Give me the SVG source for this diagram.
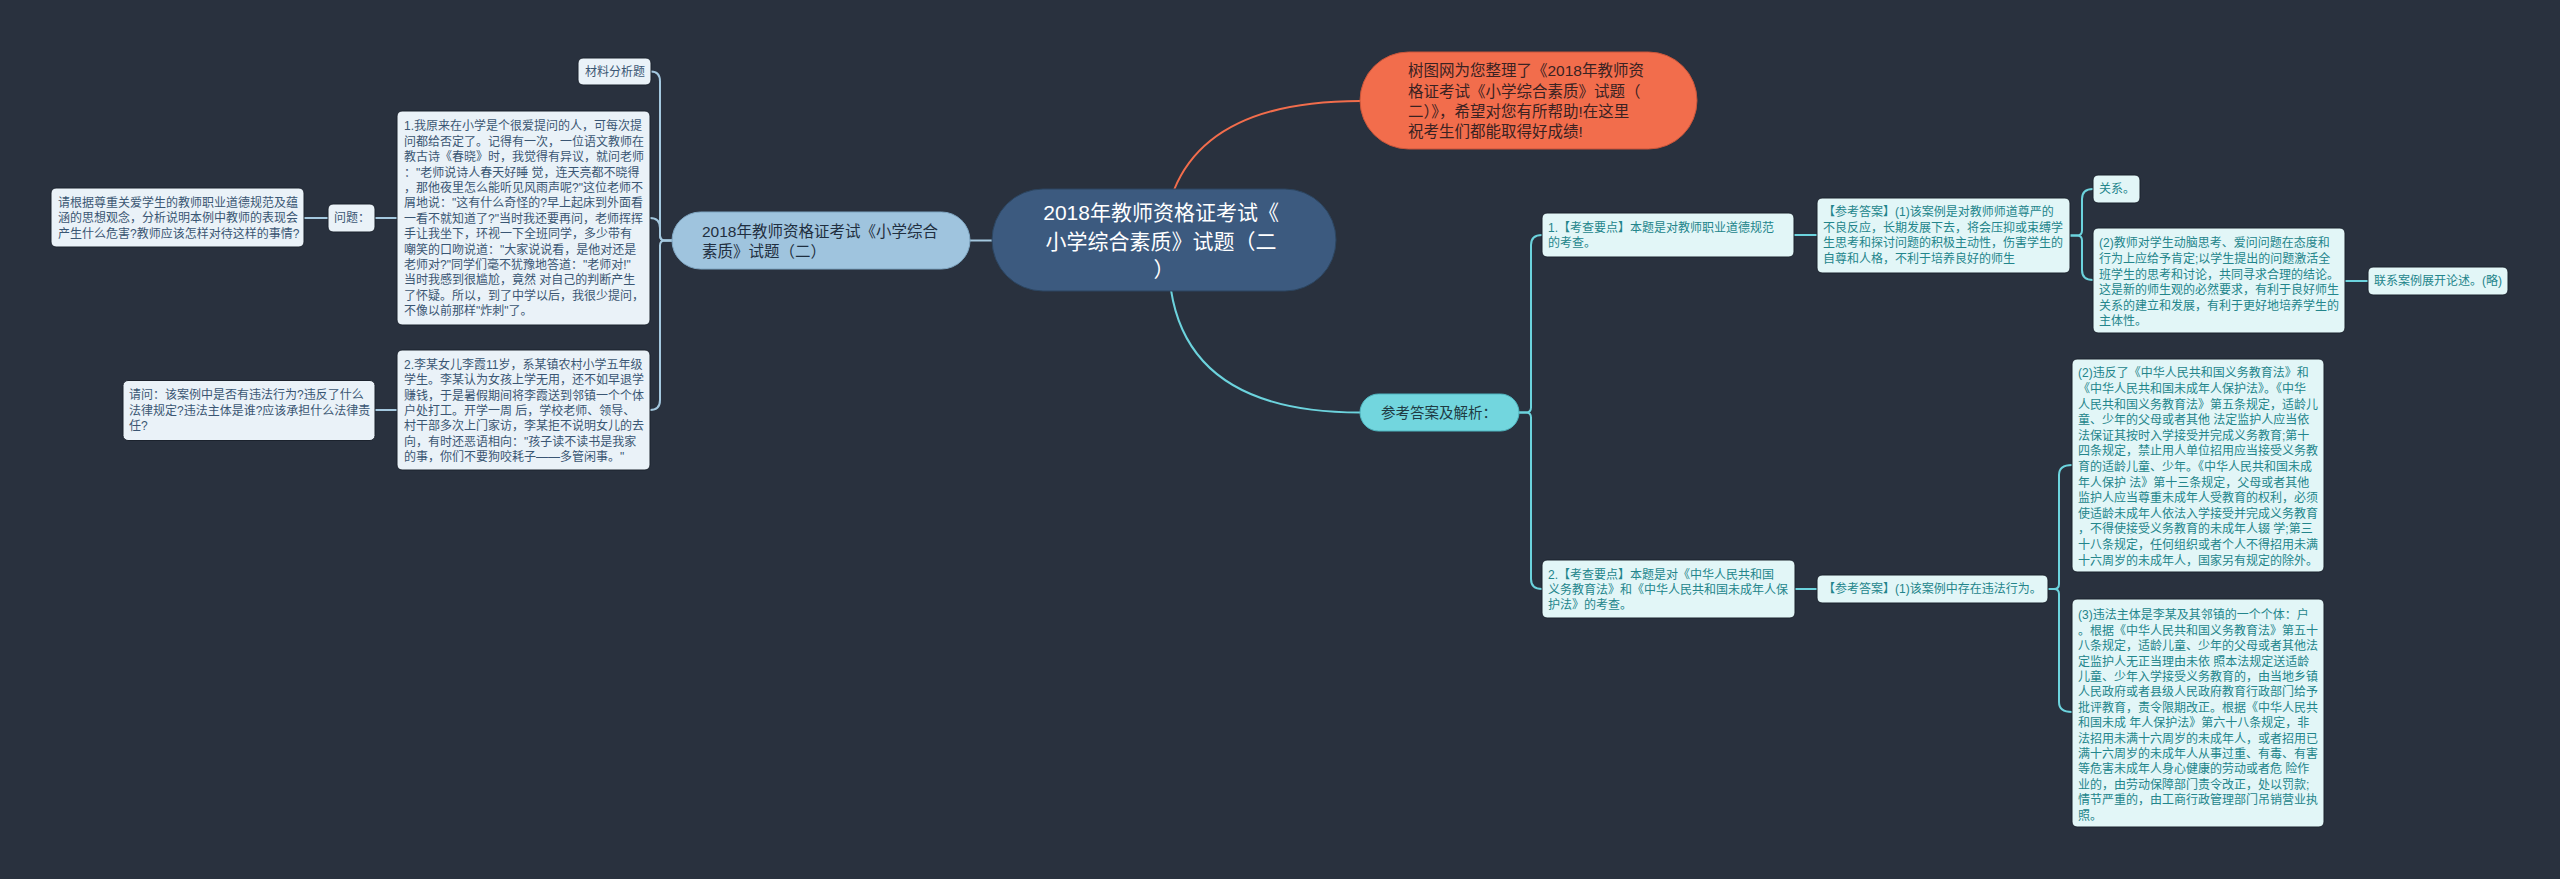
<svg xmlns="http://www.w3.org/2000/svg" width="2560" height="879" viewBox="0 0 2560 879">
<style>
text{font-family:"Liberation Sans","Noto Sans CJK SC",sans-serif;}
.bg{fill:#29313e;}
.lbox{fill:#eaf2f8;stroke:#1b222d;stroke-width:1;}
.rbox{fill:#e2f6f7;stroke:#1b222d;stroke-width:1;}
.lt{font-size:12px;fill:#3a5673;}
.rt{font-size:12px;fill:#23858b;}
.cl{fill:none;stroke:#a4c8df;stroke-width:2;}
.cr{fill:none;stroke:#6cd3dd;stroke-width:2;}
.co{fill:none;stroke:#f26d4c;stroke-width:2;}
</style>
<rect class="bg" x="0" y="0" width="2560" height="879"/>

<g id="connectors">
  <path class="co" d="M1174,190 Q1210,101 1360,101"/>
  <path class="cr" d="M1171,290 Q1190,412.5 1360,412.5"/>
  <path class="cl" d="M992,240.5 H970"/>
  <path class="cl" d="M672,240.5 H665 Q660,240.5 660,235.5 V81.5 Q660,71.5 651,71.5"/>
  <path class="cl" d="M672,240.5 H665 Q660,240.5 660,235.5 V228 Q660,218 650,218"/>
  <path class="cl" d="M672,240.5 H665 Q660,240.5 660,245.5 V400 Q660,410 650,410"/>
  <path class="cl" d="M397,218 H375"/>
  <path class="cl" d="M328,218 H304"/>
  <path class="cl" d="M397,410 H375"/>
  <path class="cr" d="M1519,412.5 H1526 Q1531,412.5 1531,407.5 V245 Q1531,235 1542,235"/>
  <path class="cr" d="M1519,412.5 H1526 Q1531,412.5 1531,417.5 V579 Q1531,589 1542,589"/>
  <path class="cr" d="M1794,235 H1817"/>
  <path class="cr" d="M1795,589 H1817"/>
  <path class="cr" d="M2070,235.5 H2077 Q2082,235.5 2082,230.5 V199 Q2082,189 2093,189"/>
  <path class="cr" d="M2070,235.5 H2077 Q2082,235.5 2082,240.5 V270 Q2082,280 2093,280"/>
  <path class="cr" d="M2345,281 H2368"/>
  <path class="cr" d="M2048,589 H2054 Q2059,589 2059,584 V475 Q2059,465 2072,465"/>
  <path class="cr" d="M2048,589 H2054 Q2059,589 2059,594 V702 Q2059,712 2072,712"/>
</g>

<g id="center">
  <rect x="992" y="189" width="344" height="102" rx="51" fill="#3c5a7f" stroke="#2c4560" stroke-width="1"/>
  <text font-size="21" fill="#ffffff" text-anchor="middle">
    <tspan x="1164" y="220.4">2018年教师资格证考试《</tspan>
    <tspan x="1164" y="248.9">小学综合素质》试题（二</tspan>
    <tspan x="1164" y="277.4">）</tspan>
  </text>
</g>

<g id="intro">
  <rect x="1360" y="52" width="337" height="97" rx="48.5" fill="#f26d4c" stroke="#c9553a" stroke-width="1"/>
  <text font-size="15.5" fill="#3a2222">
    <tspan x="1408" y="76.4">树图网为您整理了《2018年教师资</tspan>
    <tspan x="1408" y="96.7">格证考试《小学综合素质》试题（</tspan>
    <tspan x="1408" y="117">二）》，希望对您有所帮助!在这里</tspan>
    <tspan x="1408" y="137.3">祝考生们都能取得好成绩!</tspan>
  </text>
</g>

<g id="left-main">
  <rect x="672" y="212" width="298" height="57" rx="28.5" fill="#9fc4de" stroke="#7fa6c2" stroke-width="1"/>
  <text font-size="15.5" fill="#1f2f40">
    <tspan x="702" y="237.1">2018年教师资格证考试《小学综合</tspan>
    <tspan x="702" y="257.1">素质》试题（二）</tspan>
  </text>
</g>

<g id="material">
  <rect class="lbox" x="578" y="58" width="73" height="27" rx="5"/>
  <text class="lt" x="585" y="75.8">材料分析题</text>
</g>

<g id="story1">
  <rect class="lbox" x="397" y="111" width="253" height="214" rx="5"/>
  <text class="lt">
    <tspan x="404" y="130.3">1.我原来在小学是个很爱提问的人，可每次提</tspan>
    <tspan x="404" y="145.7">问都给否定了。记得有一次，一位语文教师在</tspan>
    <tspan x="404" y="161.1">教古诗《春晓》时，我觉得有异议，就问老师</tspan>
    <tspan x="404" y="176.5">："老师说诗人春天好睡 觉，连天亮都不晓得</tspan>
    <tspan x="404" y="191.9">，那他夜里怎么能听见风雨声呢?"这位老师不</tspan>
    <tspan x="404" y="207.3">屑地说："这有什么奇怪的?早上起床到外面看</tspan>
    <tspan x="404" y="222.7">一看不就知道了?"当时我还要再问，老师挥挥</tspan>
    <tspan x="404" y="238.1"> 手让我坐下，环视一下全班同学，多少带有</tspan>
    <tspan x="404" y="253.5">嘲笑的口吻说道："大家说说看，是他对还是</tspan>
    <tspan x="404" y="268.9">老师对?"同学们毫不犹豫地答道："老师对!"</tspan>
    <tspan x="404" y="284.3">当时我感到很尴尬，竟然 对自己的判断产生</tspan>
    <tspan x="404" y="299.7">了怀疑。所以，到了中学以后，我很少提问，</tspan>
    <tspan x="404" y="315.1">不像以前那样"炸刺"了。</tspan>
  </text>
</g>

<g id="question1-label">
  <rect class="lbox" x="328" y="204" width="47" height="28" rx="5"/>
  <text class="lt" x="334" y="222.3">问题：</text>
</g>

<g id="question1">
  <rect class="lbox" x="51" y="188" width="253" height="59" rx="5"/>
  <text class="lt">
    <tspan x="58" y="206.9">请根据尊重关爱学生的教师职业道德规范及蕴</tspan>
    <tspan x="58" y="222.3">涵的思想观念，分析说明本例中教师的表现会</tspan>
    <tspan x="58" y="237.7">产生什么危害?教师应该怎样对待这样的事情?</tspan>
  </text>
</g>

<g id="story2">
  <rect class="lbox" x="397" y="350" width="253" height="120" rx="5"/>
  <text class="lt">
    <tspan x="404" y="368.8">2.李某女儿李霞11岁，系某镇农村小学五年级</tspan>
    <tspan x="404" y="384.2">学生。李某认为女孩上学无用，还不如早退学</tspan>
    <tspan x="404" y="399.6">赚钱，于是暑假期间将李霞送到邻镇一个个体</tspan>
    <tspan x="404" y="415">户处打工。开学一周 后，学校老师、领导、</tspan>
    <tspan x="404" y="430.4">村干部多次上门家访，李某拒不说明女儿的去</tspan>
    <tspan x="404" y="445.8">向，有时还恶语相向："孩子读不读书是我家</tspan>
    <tspan x="404" y="461.2">的事，你们不要狗咬耗子——多管闲事。"</tspan>
  </text>
</g>

<g id="question2">
  <rect class="lbox" x="123" y="380.5" width="252" height="60" rx="5"/>
  <text class="lt">
    <tspan x="129" y="399.3">请问：该案例中是否有违法行为?违反了什么</tspan>
    <tspan x="129" y="414.7">法律规定?违法主体是谁?应该承担什么法律责</tspan>
    <tspan x="129" y="430.1">任?</tspan>
  </text>
</g>

<g id="answers">
  <rect x="1360" y="394" width="159" height="37" rx="18.5" fill="#72d6de" stroke="#4fb6c0" stroke-width="1"/>
  <text x="1439" y="417.6" font-size="14.5" fill="#203b43" text-anchor="middle">参考答案及解析：</text>
</g>

<g id="point1">
  <rect class="rbox" x="1542" y="213" width="252" height="44" rx="5"/>
  <text class="rt">
    <tspan x="1548" y="231.8">1.【考查要点】本题是对教师职业道德规范</tspan>
    <tspan x="1548" y="247.2">的考查。</tspan>
  </text>
</g>

<g id="answer1">
  <rect class="rbox" x="1817" y="198" width="253" height="75" rx="5"/>
  <text class="rt">
    <tspan x="1823" y="216.3">【参考答案】(1)该案例是对教师师道尊严的</tspan>
    <tspan x="1823" y="231.8">不良反应，长期发展下去，将会压抑或束缚学</tspan>
    <tspan x="1823" y="247.3">生思考和探讨问题的积极主动性，伤害学生的</tspan>
    <tspan x="1823" y="262.8">自尊和人格，不利于培养良好的师生</tspan>
  </text>
</g>

<g id="answer1-a">
  <rect class="rbox" x="2093" y="175" width="47" height="28" rx="5"/>
  <text class="rt" x="2099" y="193.3">关系。</text>
</g>

<g id="answer1-b">
  <rect class="rbox" x="2093" y="228" width="252" height="105" rx="5"/>
  <text class="rt">
    <tspan x="2099" y="247.3">(2)教师对学生动脑思考、爱问问题在态度和</tspan>
    <tspan x="2099" y="262.9">行为上应给予肯定;以学生提出的问题激活全</tspan>
    <tspan x="2099" y="278.5">班学生的思考和讨论，共同寻求合理的结论。</tspan>
    <tspan x="2099" y="294.1">这是新的师生观的必然要求，有利于良好师生</tspan>
    <tspan x="2099" y="309.7">关系的建立和发展，有利于更好地培养学生的</tspan>
    <tspan x="2099" y="325.3">主体性。</tspan>
  </text>
</g>

<g id="answer1-c">
  <rect class="rbox" x="2368" y="267" width="140" height="28" rx="5"/>
  <text class="rt" x="2374" y="285.3">联系案例展开论述。(略)</text>
</g>

<g id="point2">
  <rect class="rbox" x="1542" y="560" width="253" height="58" rx="5"/>
  <text class="rt">
    <tspan x="1548" y="578.6">2.【考查要点】本题是对《中华人民共和国</tspan>
    <tspan x="1548" y="594">义务教育法》和《中华人民共和国未成年人保</tspan>
    <tspan x="1548" y="609.4">护法》的考查。</tspan>
  </text>
</g>

<g id="answer2">
  <rect class="rbox" x="1817" y="575" width="231" height="28" rx="5"/>
  <text class="rt" x="1823" y="593.3">【参考答案】(1)该案例中存在违法行为。</text>
</g>

<g id="answer2-a">
  <rect class="rbox" x="2072" y="359" width="252" height="213" rx="5"/>
  <text class="rt">
    <tspan x="2078" y="377.3">(2)违反了《中华人民共和国义务教育法》和</tspan>
    <tspan x="2078" y="392.9">《中华人民共和国未成年人保护法》。《中华</tspan>
    <tspan x="2078" y="408.5">人民共和国义务教育法》第五条规定，适龄儿</tspan>
    <tspan x="2078" y="424.1">童、少年的父母或者其他 法定监护人应当依</tspan>
    <tspan x="2078" y="439.7">法保证其按时入学接受并完成义务教育;第十</tspan>
    <tspan x="2078" y="455.3">四条规定，禁止用人单位招用应当接受义务教</tspan>
    <tspan x="2078" y="470.9">育的适龄儿童、少年。《中华人民共和国未成</tspan>
    <tspan x="2078" y="486.5">年人保护 法》第十三条规定，父母或者其他</tspan>
    <tspan x="2078" y="502.1">监护人应当尊重未成年人受教育的权利，必须</tspan>
    <tspan x="2078" y="517.7">使适龄未成年人依法入学接受并完成义务教育</tspan>
    <tspan x="2078" y="533.3">，不得使接受义务教育的未成年人辍 学;第三</tspan>
    <tspan x="2078" y="548.9">十八条规定，任何组织或者个人不得招用未满</tspan>
    <tspan x="2078" y="564.5">十六周岁的未成年人，国家另有规定的除外。</tspan>
  </text>
</g>

<g id="answer2-b">
  <rect class="rbox" x="2072" y="599" width="252" height="228" rx="5"/>
  <text class="rt">
    <tspan x="2078" y="619.3">(3)违法主体是李某及其邻镇的一个个体：户</tspan>
    <tspan x="2078" y="634.7">。根据《中华人民共和国义务教育法》第五十</tspan>
    <tspan x="2078" y="650.1">八条规定，适龄儿童、少年的父母或者其他法</tspan>
    <tspan x="2078" y="665.5">定监护人无正当理由未依 照本法规定送适龄</tspan>
    <tspan x="2078" y="680.9">儿童、少年入学接受义务教育的，由当地乡镇</tspan>
    <tspan x="2078" y="696.3">人民政府或者县级人民政府教育行政部门给予</tspan>
    <tspan x="2078" y="711.7">批评教育，责令限期改正。根据《中华人民共</tspan>
    <tspan x="2078" y="727.1">和国未成 年人保护法》第六十八条规定，非</tspan>
    <tspan x="2078" y="742.5">法招用未满十六周岁的未成年人，或者招用已</tspan>
    <tspan x="2078" y="757.9">满十六周岁的未成年人从事过重、有毒、有害</tspan>
    <tspan x="2078" y="773.3">等危害未成年人身心健康的劳动或者危 险作</tspan>
    <tspan x="2078" y="788.7">业的，由劳动保障部门责令改正，处以罚款;</tspan>
    <tspan x="2078" y="804.1">情节严重的，由工商行政管理部门吊销营业执</tspan>
    <tspan x="2078" y="819.5">照。</tspan>
  </text>
</g>
</svg>
